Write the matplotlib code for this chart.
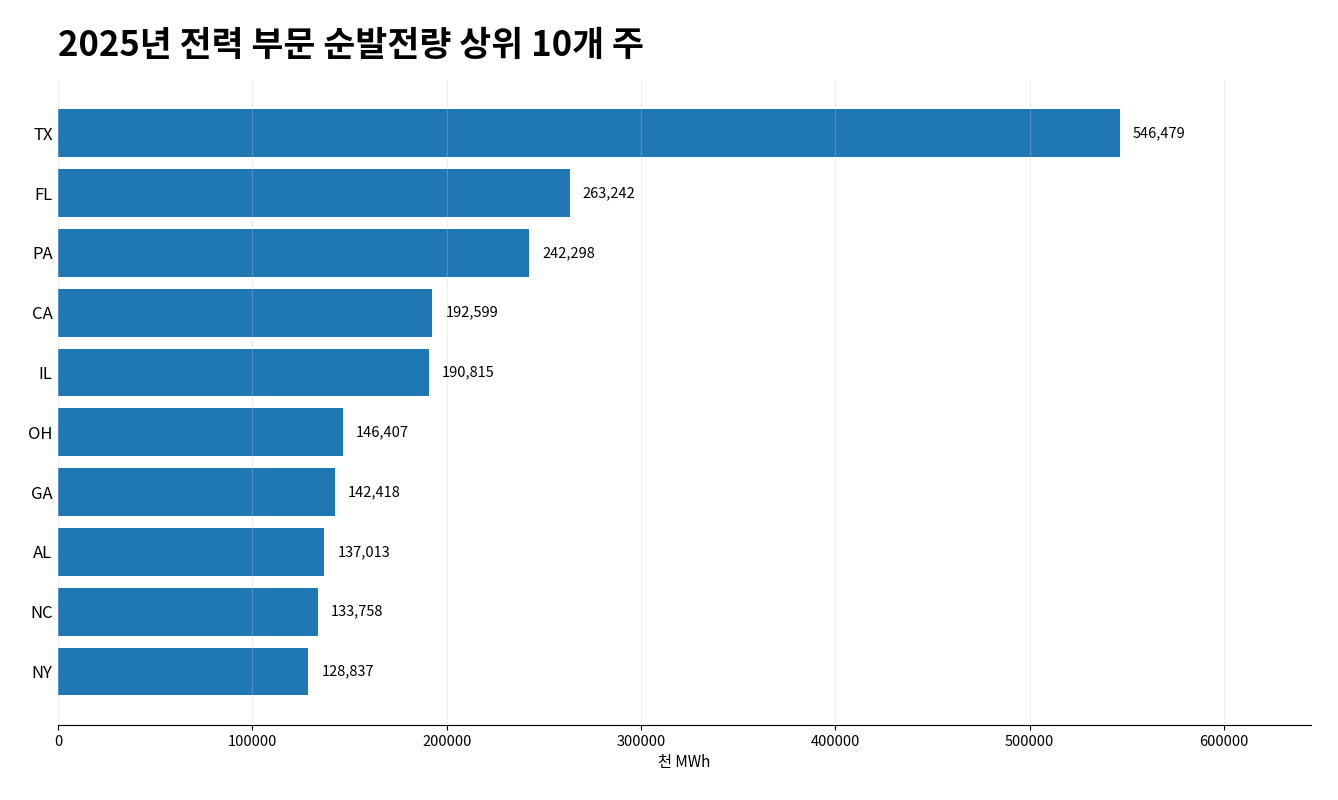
import matplotlib
matplotlib.use('Agg')
import matplotlib.pyplot as plt

states = ['TX', 'FL', 'PA', 'CA', 'IL', 'OH', 'GA', 'AL', 'NC', 'NY']
generation = [546479, 263242, 242298, 192599, 190815, 146407, 142418, 137013, 133758, 128837]

plt.rcParams['font.family'] = ['Noto Sans CJK KR', 'DejaVu Sans']

fig, ax = plt.subplots(figsize=(13.38, 8), dpi=100)
fig.subplots_adjust(left=0.0434, right=0.98, top=0.9, bottom=0.094)

ax.barh(states, generation, height=0.8, color='#1f77b4')
ax.invert_yaxis()

for i, v in enumerate(generation):
    ax.text(v + 6700, i, f'{v:,}', va='center', ha='left', fontsize=10.5)

ax.set_xlim(0, max(generation) * 1.18)
ax.grid(axis='x', color='#cccccc', linewidth=0.8, alpha=0.3)
ax.set_axisbelow(False)

for s in ['top', 'right', 'left']:
    ax.spines[s].set_visible(False)
ax.tick_params(axis='y', length=0, labelsize=12, pad=4)
ax.tick_params(axis='x', labelsize=10.5)

ax.set_xlabel('천 MWh', fontsize=11)
ax.set_title('2025년 전력 부문 순발전량 상위 10개 주', loc='left', fontsize=25,
             fontweight='bold', pad=17)

plt.savefig('out.png', dpi=100)
